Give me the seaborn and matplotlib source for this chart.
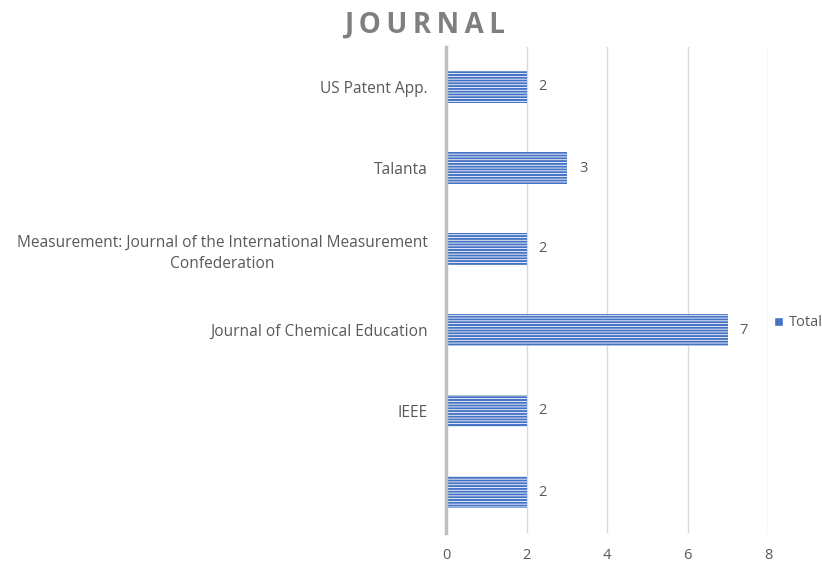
import matplotlib
matplotlib.use("Agg")
import matplotlib.pyplot as plt
import seaborn as sns
import pandas as pd
from matplotlib.patches import Patch

categories = ["US Patent App.", "Talanta",
              "Measurement: Journal of the International Measurement\nConfederation",
              "Journal of Chemical Education", "IEEE", " "]
values = [2, 3, 2, 7, 2, 2]
xticks = [0, 2, 4, 6, 8]

sns.set_theme(style="white")
plt.rcParams['font.family'] = ['Open Sans', 'DejaVu Sans']
plt.rcParams['hatch.color'] = '#DCE4F4'
plt.rcParams['hatch.linewidth'] = 0.6

df = pd.DataFrame({"cat": categories, "val": values})
fig = plt.figure(figsize=(8.22, 5.63), dpi=100)
ax = fig.add_axes([446/822, 1-532.5/563, (768-446)/822, (532.5-46.5)/563])
blue = "#4472C4"
grey = "#595959"
sns.barplot(data=df, y="cat", x="val", orient="h", color=blue, width=0.4, ax=ax,
            saturation=1, edgecolor="white", linewidth=0)
for p in ax.patches:
    p.set_hatch("------")
    p.set_linewidth(0)
ax.set_xlim(0, 8)
ax.set_xticks(xticks)
ax.grid(axis="x", color="#D9D9D9", linewidth=1)
ax.set_axisbelow(True)
for s in ["top", "right", "bottom"]:
    ax.spines[s].set_visible(False)
ax.spines["left"].set_color("#BFBFBF")
ax.spines["left"].set_linewidth(2.5)
ax.set_xlabel("")
ax.set_ylabel("")
ax.tick_params(axis="both", length=0, labelcolor=grey)
ax.tick_params(axis="y", pad=13, labelsize=11.2)
ax.tick_params(axis="x", pad=11, labelsize=10.5)
for lab in ax.get_yticklabels():
    lab.set_multialignment("center")
    lab.set_linespacing(1.4)
for i, v in enumerate(values):
    ax.text(v + 0.3, i, str(v), va="center", ha="left", color=grey, fontsize=10.5)
fig.text(0.516, 0.956, "\u2009".join("JOURNAL"),
         ha="center", va="center", fontsize=20, fontweight="bold", color="#7F7F7F")
fig.legend(handles=[Patch(facecolor=blue, label="Total")], loc="center left",
           bbox_to_anchor=(771/822, 1-323/563), frameon=False, fontsize=10.5,
           handlelength=0.6, handleheight=0.6, handletextpad=0.4, labelcolor=grey,
           borderaxespad=0, borderpad=0.2)
fig.savefig("out.png", dpi=100)
